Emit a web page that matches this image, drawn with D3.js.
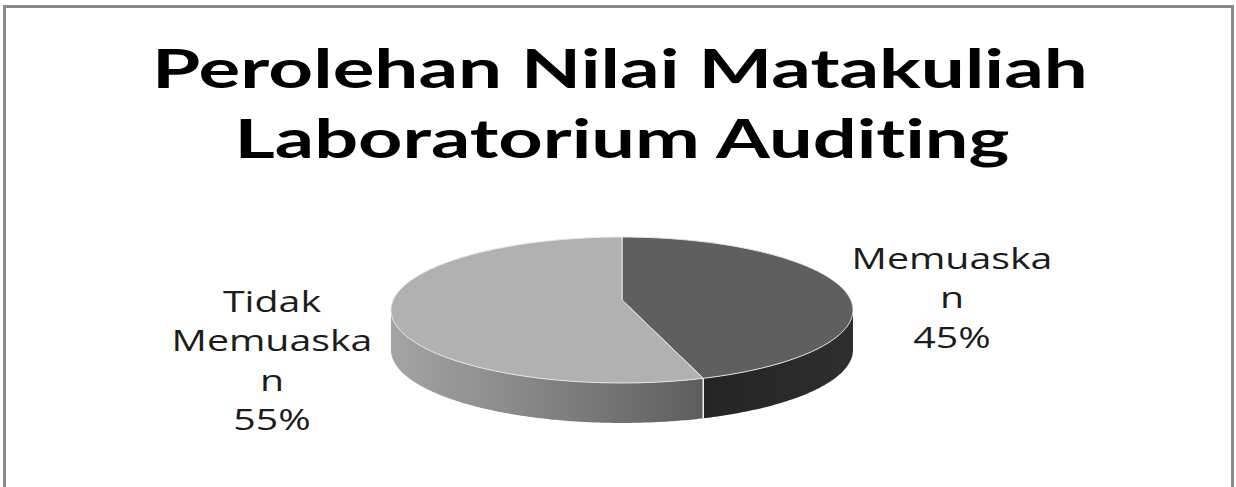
<!DOCTYPE html>
<html>
<head>
<meta charset="utf-8">
<script src="https://cdn.jsdelivr.net/npm/d3@7"></script>
<style>
  html, body { margin: 0; padding: 0; background: #fff; }
  svg { display: block; }
  text { font-variant-ligatures: none; font-feature-settings: "liga" 0, "clig" 0; }
</style>
</head>
<body>
<svg id="chart" width="1236" height="487"></svg>
<script>
// ---- data ----
const titleLines = ["Perolehan Nilai Matakuliah", "Laboratorium Auditing"];
const categories = ["Memuaskan", "Tidak Memuaskan"];
const values = [45, 55];
const labelLines = [["Memuaska", "n"], ["Tidak", "Memuaska", "n"]];
const topColors = ["#5f5f5f", "#b1b1b1"];

// ---- layout ----
const svg = d3.select("#chart");
// perspective projection of the pie disc
const cx = 622, cy = 300, k = 0.137, sX = 228.8, sY = 71.6, depth = 40;

svg.append("rect").attr("x", 4.5).attr("y", 6.5).attr("width", 1228).attr("height", 520)
  .attr("fill", "#fff").attr("stroke", "#8a8a8a").attr("stroke-width", 3);

const defs = svg.append("defs");
const g1 = defs.append("linearGradient").attr("id", "sideTidak")
  .attr("gradientUnits", "userSpaceOnUse").attr("x1", 390).attr("x2", 705).attr("y1", 0).attr("y2", 0);
g1.append("stop").attr("offset", 0).attr("stop-color", "#a4a4a4");
g1.append("stop").attr("offset", 0.5).attr("stop-color", "#838383");
g1.append("stop").attr("offset", 1).attr("stop-color", "#5c5c5c");
const g2 = defs.append("linearGradient").attr("id", "sideMem")
  .attr("gradientUnits", "userSpaceOnUse").attr("x1", 700).attr("x2", 852).attr("y1", 0).attr("y2", 0);
g2.append("stop").attr("offset", 0).attr("stop-color", "#242424");
g2.append("stop").attr("offset", 1).attr("stop-color", "#2e2e2e");
const sideFills = ["url(#sideMem)", "url(#sideTidak)"];

const pie = d3.pie().sort(null).value(d => d);
const arcs = pie(values);

const den = a => 1 + k * Math.cos(a);
const px = a => cx + sX * Math.sin(a) / den(a);
const py = a => cy + sY * (-Math.cos(a)) / den(a);
const line = d3.line();
function samples(a0, a1) {
  const n = Math.max(2, Math.ceil((a1 - a0) / 0.01));
  return d3.range(n + 1).map(i => a0 + (a1 - a0) * i / n);
}

// visible side span (silhouette points)
const sideStart = Math.acos(-k), sideEnd = 2 * Math.PI - Math.acos(-k);
arcs.forEach((d, i) => {
  const s = Math.max(d.startAngle, sideStart);
  const e = Math.min(d.endAngle, sideEnd);
  if (e <= s) return;
  const top = samples(s, e).map(a => [px(a), py(a)]);
  const bot = samples(s, e).reverse().map(a => [px(a), py(a) + depth]);
  svg.append("path").attr("d", line(top.concat(bot)) + "Z")
    .attr("fill", sideFills[i]).attr("stroke", "none");
});
arcs.forEach(d => {
  [d.startAngle, d.endAngle].forEach(a => {
    if (a > sideStart && a < sideEnd) {
      svg.append("line").attr("x1", px(a)).attr("y1", py(a)).attr("x2", px(a)).attr("y2", py(a) + depth)
        .attr("stroke", "#f2f2f2").attr("stroke-width", 1.2);
    }
  });
});

// top faces
arcs.forEach((d, i) => {
  const pts = [[cx, cy]].concat(samples(d.startAngle, d.endAngle).map(a => [px(a), py(a)]));
  svg.append("path").attr("d", line(pts) + "Z")
    .attr("fill", topColors[i]).attr("stroke", "#e8e8e8").attr("stroke-width", 1)
    .attr("stroke-linejoin", "round");
});

// title (horizontally stretched like the reference)
const titleY = [88, 158], titleW = [936, 775], titleX = [620, 622];
titleLines.forEach((t, i) => {
  const txt = svg.append("text")
    .attr("text-anchor", "middle")
    .attr("font-family", "Lato, sans-serif").attr("font-weight", 700)
    .attr("font-size", 53).attr("fill", "#000")
    .text(t);
  const w = txt.node().getComputedTextLength();
  txt.attr("transform", `translate(${titleX[i]},${titleY[i]}) scale(${titleW[i] / w},1)`);
});

// labels
const labelPos = [{x: 952, y: 269}, {x: 272, y: 312}];
const lineH = 39.3;
const probe = svg.append("text").attr("font-family", "'Open Sans', sans-serif").attr("font-size", 29).text("Memuaska");
const sx = 201 / probe.node().getComputedTextLength();
probe.remove();
arcs.forEach((d, i) => {
  const lines = labelLines[i].concat([d3.format(".0%")(d.value / d3.sum(values))]);
  lines.forEach((t, j) => {
    svg.append("text")
      .attr("transform", `translate(${labelPos[i].x},${labelPos[i].y + j * lineH}) scale(${sx},1)`)
      .attr("text-anchor", "middle")
      .attr("font-family", "'Open Sans', sans-serif").attr("font-size", 29)
      .attr("fill", "#1c1c1c")
      .text(t);
  });
});
</script>
</body>
</html>
